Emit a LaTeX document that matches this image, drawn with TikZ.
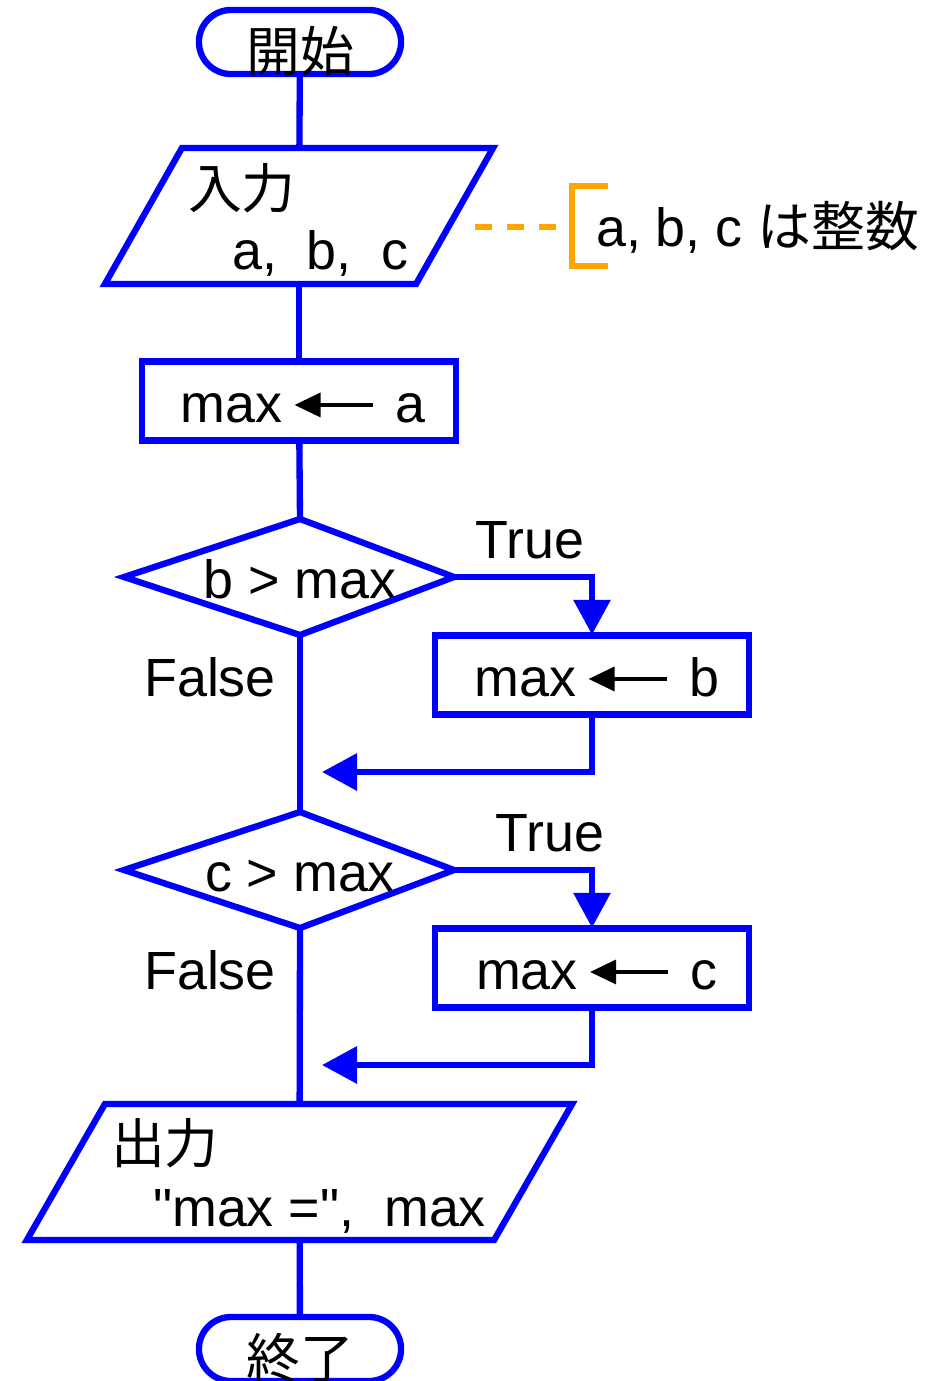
\documentclass[tikz,border=0pt]{standalone}
\usepackage{fontspec}
\setmainfont{Liberation Sans}[Ligatures=TeXOff]
\newfontfamily\jpfont{Noto Sans CJK JP}
\usetikzlibrary{positioning,shapes.misc,arrows.meta}
\definecolor{flowblue}{RGB}{0,0,255}
\definecolor{noteorange}{RGB}{255,165,0}
\tikzset{>={Triangle[length=0.35cm,width=0.36cm]}}
\newcommand{\larr}{\tikz[baseline=-0.6ex]\draw[line width=1pt,{Triangle[length=0.26cm,width=0.24cm]}-](0,0)--(0.78cm,0);}

\begin{document}
\begin{tikzpicture}[x=0.01cm, y=-0.01cm, line width=1.8pt,
  font=\fontsize{15.3pt}{18pt}\selectfont,
  term/.style={draw=flowblue, rounded rectangle, minimum width=2.02cm, minimum height=0.64cm, inner sep=0pt, text height=0.58cm, text depth=0cm},
  proc/.style={draw=flowblue, rectangle, minimum width=3.14cm, minimum height=0.79cm, inner sep=0pt, text height=0.42cm, text depth=0cm},
  cond/.style={inner sep=0pt, text height=0.42cm, text depth=0cm},
  iobox/.style={inner sep=0pt, outer sep=0pt, minimum height=1.36cm},
  txt/.style={anchor=base west, inner sep=0pt},
  flow/.style={draw=flowblue},
  note/.style={draw=noteorange, line width=1.5pt}]
\useasboundingbox (0,0) rectangle (935,1381);
\node[term] (start) at (300,42) {\jpfont 開始\hspace{0.1cm}};
\node[iobox, minimum width=3.11cm] (in) at (299,216) {};
\node[txt] (inname) at (185,208) {\jpfont 入力};
\node[txt] (invars) at (229,269) {a,\ \ b,\ \ c};
\node[proc] (p1) at (299,401) {\hspace{0.08cm}max\hspace{3pt}\larr\hspace{6pt}a};
\node[cond] (d1) at (300,577) {b > max};
\coordinate (d1top) at (300,519);
\coordinate (d1left) at (124,577);
\coordinate (d1right) at (454,577);
\coordinate (d1bot) at (300,635);
\node[proc] (p2) at (592,675) {\hspace{0.1cm}max\hspace{3pt}\larr\hspace{6pt}b};
\coordinate (j1) at (322,772);
\node[cond] (d2) at (300,870) {c > max};
\coordinate (d2top) at (300,812);
\coordinate (d2left) at (124,870);
\coordinate (d2right) at (454,870);
\coordinate (d2bot) at (300,928);
\node[proc] (p3) at (592,968) {\hspace{0.1cm}max\hspace{3pt}\larr\hspace{6pt}c};
\coordinate (j2) at (322,1065);
\node[iobox, minimum width=4.67cm] (out) at (299.5,1172) {};
\node[txt] (outname) at (108,1163) {\jpfont 出力};
\node[txt] (outvals) at (150,1226) {"max =",\ \ max};
\node[term] (stop) at (300,1349) {\jpfont 終了\hspace{0.1cm}};
\node (t1) at (530,540) {True};
\node (f1) at (210,677) {False};
\node (t2) at (550,833) {True};
\node (f2) at (210,970) {False};

\draw[flow] ([xshift=-0.385cm]in.south west) -- ([xshift=0.385cm]in.north west) -- ([xshift=0.385cm]in.north east) -- ([xshift=-0.385cm]in.south east) -- cycle;
\draw[flow] ([xshift=-0.39cm]out.south west) -- ([xshift=0.39cm]out.north west) -- ([xshift=0.39cm]out.north east) -- ([xshift=-0.39cm]out.south east) -- cycle;
\draw[flow] (d1top) -- (d1right) -- (d1bot) -- (d1left) -- cycle;
\draw[flow] (d2top) -- (d2right) -- (d2bot) -- (d2left) -- cycle;

\draw[flow] (start) -- (in);
\draw[flow] (in) -- (p1);
\draw[flow] (p1) -- (d1top);
\draw[flow] (d1bot) -- (d2top);
\draw[flow] (d2bot) -- (out);
\draw[flow] (out) -- (stop);
\draw[flow,->] (d1right) -| (p2.north);
\draw[flow,->] (p2.south) |- (j1);
\draw[flow,->] (d2right) -| (p3.north);
\draw[flow,->] (p3.south) |- (j2);

\coordinate (n0) at (475,227);
\coordinate (n1) at (557,227);
\node[anchor=west, inner sep=0pt] (remark) at (593,227) {a, b, c {\jpfont は整数}};
\draw[note, dash pattern=on 0.17cm off 0.15cm] (n0) -- (n1);
\draw[note] (608,186) -- (572,186) -- (572,266) -- (608,266);
\end{tikzpicture}
\end{document}
